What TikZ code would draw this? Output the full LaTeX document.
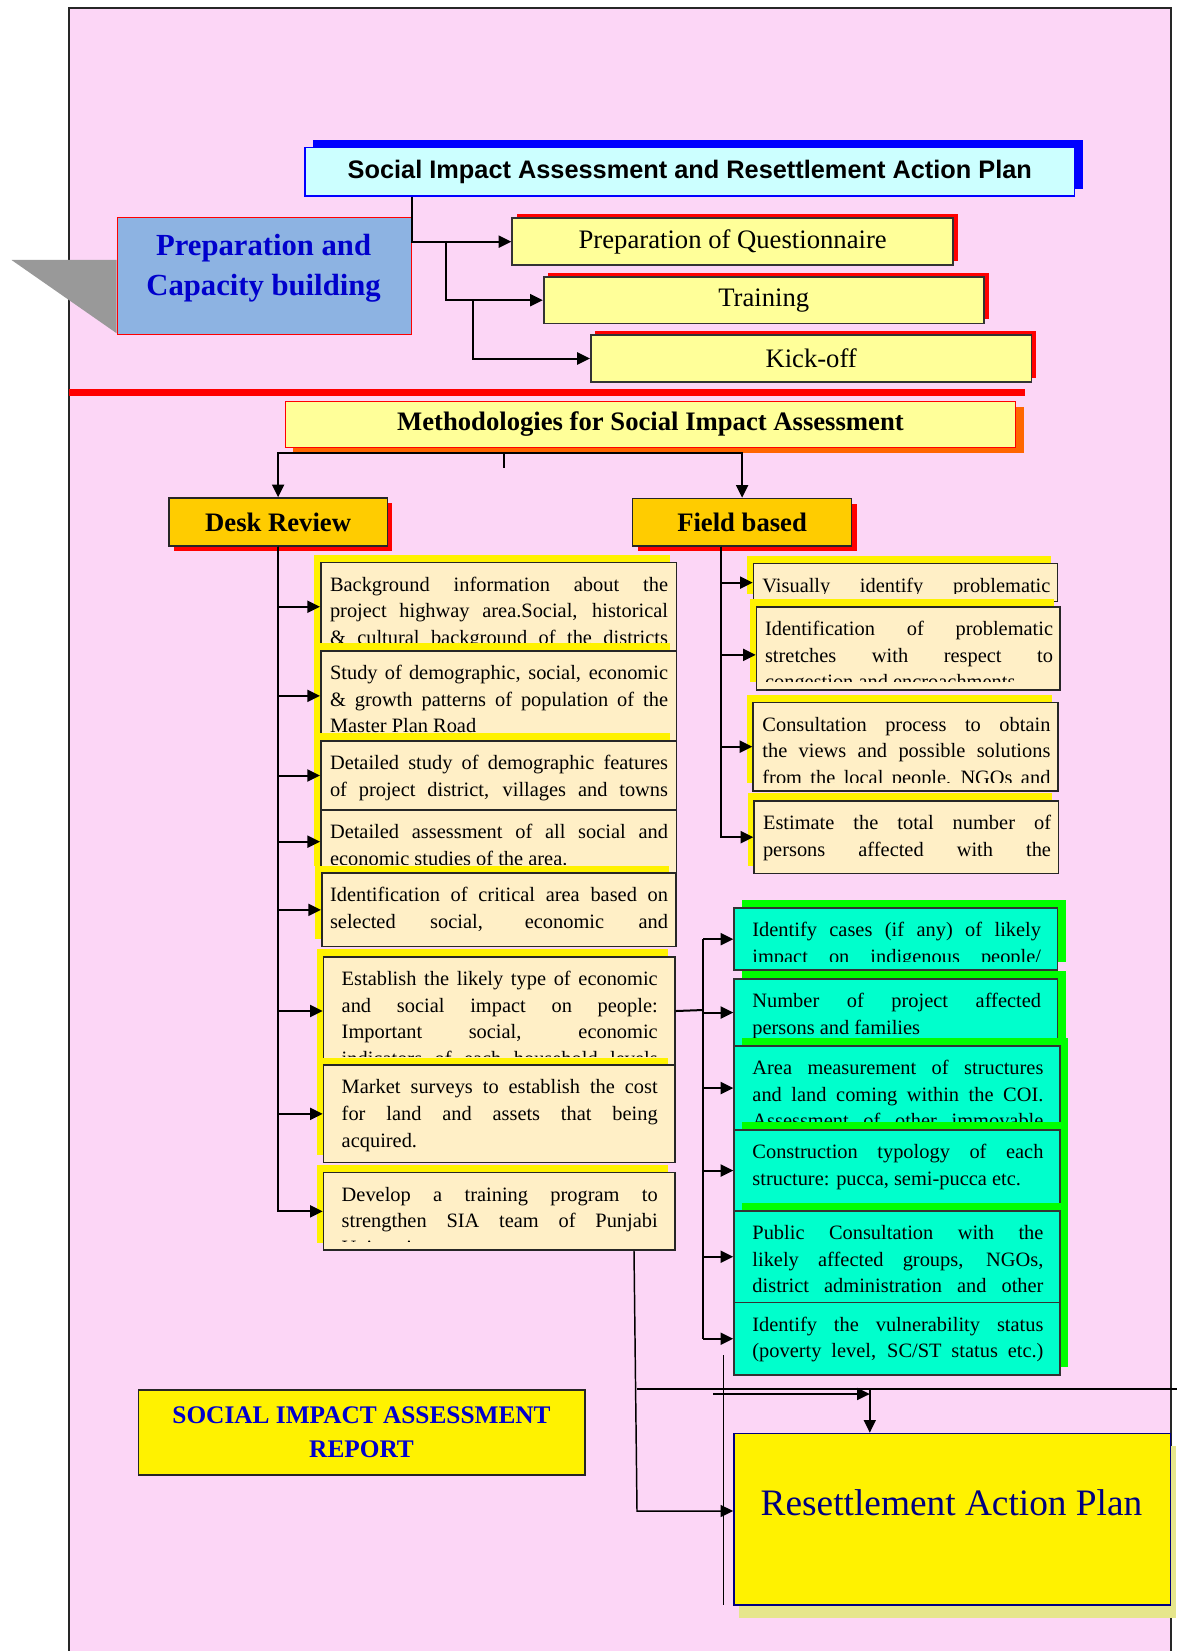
\documentclass[tikz,border=0pt]{standalone}
\usepackage{fontspec}
\setmainfont{Liberation Serif}
\newfontfamily\arialfont{Liberation Sans}
\usetikzlibrary{arrows.meta,shadows}

\definecolor{pinkbg}{HTML}{FCD6F6}
\definecolor{titlefill}{HTML}{CCFFFF}
\definecolor{prepfill}{HTML}{8DB3E2}
\definecolor{lemon}{HTML}{FFFF99}
\definecolor{gold}{HTML}{FFCC00}
\definecolor{peach}{HTML}{FFEFC6}
\definecolor{aqua}{HTML}{00FFCC}
\definecolor{shadegreen}{HTML}{00FF00}
\definecolor{darkblue}{HTML}{0000CC}
\definecolor{rapnavy}{HTML}{000080}
\definecolor{rapshade}{HTML}{E6E68C}
\definecolor{orangeshade}{HTML}{FF6600}
\definecolor{graytri}{HTML}{999999}

\newlength\pxu
\setlength\pxu{0.75pt}
\newcommand\boxfont{\fontsize{15.3}{20}\selectfont}
\newcommand\jrow[1]{\noindent\makebox[\linewidth][s]{#1}\par}
\newcommand\lrow[1]{\noindent#1\par}

\begin{document}
\begin{tikzpicture}[x=0.75pt,y=-0.75pt,
    arr/.style={line width=1.5pt,-{Triangle[length=9.5pt,width=9pt]}},
    thinarr/.style={line width=1.1pt,-{Triangle[length=9.5pt,width=9pt]}},
    conn/.style={line width=1.5pt},
    thinconn/.style={line width=1.1pt},
    panel/.style={anchor=north west,inner sep=0pt,rectangle},
    topbox/.style={panel,fill=lemon,draw=black!80,line width=1.3pt,
      drop shadow={shadow xshift=3.5pt,shadow yshift=3.2pt,fill=red,opacity=1},
      font=\fontsize{20}{24}\selectfont},
    headbox/.style={panel,fill=gold,draw=black!85,line width=1.3pt,
      drop shadow={shadow xshift=3.75pt,shadow yshift=-3.75pt,fill=red,opacity=1},
      font=\bfseries\fontsize{20}{24}\selectfont},
    deskbox/.style={panel,fill=peach,draw=black!85,line width=1.3pt,
      drop shadow={shadow xshift=-5pt,shadow yshift=5.6pt,fill=yellow,opacity=1}},
    greenbox/.style={panel,fill=aqua,draw=black!80,line width=1.3pt,
      drop shadow={shadow xshift=6pt,shadow yshift=6pt,fill=shadegreen,opacity=1}},
    boxtext/.style n args={3}{path picture={
      \clip ([yshift=6.4pt]path picture bounding box.south west)
        rectangle (path picture bounding box.north east);
      \node[anchor=base west,inner sep=0pt,minimum width=0pt,minimum height=0pt,draw=none,fill=none]
        at ([xshift=#1\pxu,yshift=-21.5pt]path picture bounding box.north west)
        {\parbox[t]{#2\pxu}{\boxfont #3}};}}]

  \useasboundingbox (0,0) rectangle (1177,1651);
  \fill[pinkbg] (69,8.3) rectangle (1171,1660);
  \draw[line width=1.2pt,black!85] (69,1660) -- (69,8.3) -- (1171,8.3) -- (1171,1660);
  \fill[graytri] (11.5,260) -- (116.7,260) -- (116.7,333.3) -- cycle;
  \draw[red,line width=4.9pt] (69,392.3) -- (1025,392.3);

  \node[panel,fill=titlefill,draw=blue,line width=1.1pt,
    drop shadow={shadow xshift=6pt,shadow yshift=5.25pt,fill=blue,opacity=1},
    minimum width=769.8\pxu,minimum height=48.6\pxu,
    font=\arialfont\bfseries\fontsize{19}{23}\selectfont] (title) at (304.2,146.7)
    {Social Impact Assessment and Resettlement Action Plan};

  \node[panel,fill=prepfill,draw=red,line width=0.8pt,minimum width=293.9\pxu,minimum height=117\pxu] (prep) at (116.7,217.3) {};
  \node[align=center,text=darkblue,font=\bfseries\fontsize{23}{30}\selectfont] (preplabel) at (263.6,268)
    {Preparation and\\Capacity building};

  \node[topbox,minimum width=440.8\pxu,minimum height=47\pxu] (quest) at (511.4,217.3) {Preparation of Questionnaire};
  \node[topbox,minimum width=440.2\pxu,minimum height=46.7\pxu] (train) at (542.8,276) {Training};
  \node[topbox,minimum width=440.8\pxu,minimum height=46.7\pxu] (kick) at (589.9,334.3) {Kick-off};

  \node[panel,fill=lemon,draw=red,line width=0.8pt,
    drop shadow={shadow xshift=6pt,shadow yshift=-4.5pt,fill=orangeshade,opacity=1},
    minimum width=730.2\pxu,minimum height=46\pxu,font=\bfseries\fontsize{20}{24}\selectfont] (meth) at (284.8,400.7)
    {Methodologies for Social Impact Assessment};

  \node[headbox,minimum width=218.7\pxu,minimum height=47.7\pxu] (desk) at (167.9,497.3) {Desk Review};
  \node[headbox,minimum width=219\pxu,minimum height=47.3\pxu] (field) at (631.7,497.7) {Field based};

  \node[deskbox,minimum width=355.7\pxu,minimum height=88.3\pxu,boxtext={8.3}{338}{%
    \jrow{Background information about the}\jrow{project highway area.Social, historical}%
    \jrow{\& cultural background of the districts}}] (d1) at (320,561.7) {};
  \node[deskbox,minimum width=355.7\pxu,minimum height=90\pxu,boxtext={8.3}{338}{%
    \jrow{Study of demographic, social, economic}\jrow{\& growth patterns of population of the}%
    \lrow{Master Plan Road}}] (d2) at (320,650) {};
  \node[deskbox,minimum width=355.7\pxu,minimum height=63\pxu,boxtext={8.3}{338}{%
    \jrow{Detailed assessment of all social and}\lrow{economic studies of the area.}}] (d4) at (320,809.3) {};
  \node[deskbox,minimum width=355.7\pxu,minimum height=69.3\pxu,boxtext={8.3}{338}{%
    \jrow{Detailed study of demographic features}\jrow{of project district, villages and towns}}] (d3) at (320,740) {};
  \node[deskbox,minimum width=354\pxu,minimum height=73.4\pxu,boxtext={7.3}{338}{%
    \jrow{Identification of critical area based on}\jrow{selected social, economic and}}] (d5) at (321,872.3) {};
  \node[deskbox,minimum width=351.3\pxu,minimum height=108.3\pxu,boxtext={17.3}{316}{%
    \jrow{Establish the likely type of economic}\jrow{and social impact on people:}%
    \jrow{Important social, economic}\jrow{indicators of each household levels}}] (d6) at (322.7,956) {};
  \node[deskbox,minimum width=351.3\pxu,minimum height=97.4\pxu,boxtext={17.3}{316}{%
    \jrow{Market surveys to establish the cost}\jrow{for land and assets that being}%
    \lrow{acquired.}}] (d7) at (322.7,1064.3) {};
  \node[deskbox,minimum width=351.3\pxu,minimum height=77.6\pxu,boxtext={17.3}{316}{%
    \jrow{Develop a training program to}\jrow{strengthen SIA team of Punjabi}%
    \lrow{University}}] (d8) at (322.7,1171.7) {};

  \node[deskbox,minimum width=304\pxu,minimum height=38\pxu,boxtext={8}{288}{%
    \jrow{Visually identify problematic}}] (f1) at (752.7,562.7) {};
  \node[deskbox,minimum width=303.6\pxu,minimum height=83\pxu,boxtext={7.6}{288}{%
    \jrow{Identification of problematic}\jrow{stretches with respect to}%
    \lrow{congestion and encroachments}}] (f2) at (755.7,606) {};
  \node[deskbox,minimum width=305\pxu,minimum height=88.3\pxu,boxtext={8.4}{288}{%
    \jrow{Consultation process to obtain}\jrow{the views and possible solutions}%
    \jrow{from the local people, NGOs and}}] (f3) at (752.3,701.7) {};
  \node[deskbox,minimum width=304.4\pxu,minimum height=72.7\pxu,boxtext={8}{288}{%
    \jrow{Estimate the total number of}\jrow{persons affected with the}}] (f4) at (753.3,800) {};

  \node[greenbox,minimum width=323.4\pxu,minimum height=62\pxu,boxtext={17.4}{288.6}{%
    \jrow{Identify cases (if any) of likely}\jrow{impact on indigenous people/}}] (g1) at (733.3,907.3) {};
  \node[greenbox,minimum width=323.4\pxu,minimum height=66.7\pxu,boxtext={17.4}{288.6}{%
    \jrow{Number of project affected}\lrow{persons and families}}] (g2) at (733.3,978.3) {};
  \node[greenbox,minimum width=326\pxu,minimum height=84.3\pxu,boxtext={17.4}{291}{%
    \jrow{Area measurement of structures}\jrow{and land coming within the COI.}%
    \jrow{Assessment of other immovable}}] (g3) at (733.3,1045) {};
  \node[greenbox,minimum width=326\pxu,minimum height=80.7\pxu,boxtext={17.4}{291}{%
    \jrow{Construction typology of each}\lrow{structure: pucca, semi-pucca etc.}}] (g4) at (733.3,1129.3) {};
  \node[greenbox,minimum width=326\pxu,minimum height=72.3\pxu,boxtext={17.4}{291}{%
    \jrow{Identify the vulnerability status}\jrow{(poverty level, SC/ST status etc.)}}] (g6) at (733.3,1301.7) {};
  \node[greenbox,minimum width=326\pxu,minimum height=91.7\pxu,boxtext={17.4}{291}{%
    \jrow{Public Consultation with the}\jrow{likely affected groups, NGOs,}%
    \jrow{district administration and other}}] (g5) at (733.3,1210) {};

  \node[panel,fill=yellow,draw=black!85,line width=1.2pt,minimum width=446.5\pxu,minimum height=85\pxu,
    align=center,text=darkblue,font=\bfseries\fontsize{19}{25}\selectfont] (report) at (137.5,1389)
    {SOCIAL IMPACT ASSESSMENT\\REPORT};

  \node[panel,fill=yellow,draw=rapnavy,line width=1.2pt,
    drop shadow={shadow xshift=3.75pt,shadow yshift=-9.4pt,fill=rapshade,opacity=1},
    minimum width=436.5\pxu,minimum height=171.6\pxu] (rap) at (733.2,1432.7) {};
  \node[text=rapnavy,font=\fontsize{28}{34}\selectfont] (raplabel) at (951.5,1502.4) {Resettlement Action Plan};

  \coordinate (tbr) at (445.8,240.8);
  \coordinate (kbr) at (473.4,299.3);
  \draw[arr] (prep.east |- title.south) |- (quest.west);
  \draw[arr] (tbr) |- (train.west);
  \draw[arr] (kbr) |- (kick.west);

  \coordinate (mbus) at (503.6,452.7);
  \draw[conn] (mbus) -- ++(0,15.3);
  \draw[arr] (mbus) -| (desk.north);
  \draw[arr] (mbus) -| (field.north);

  \foreach \k in {d1,d2,d3,d4,d5,d6,d7,d8}
    \draw[arr] (desk.south) |- (\k.west);

  \coordinate (fbus) at ([xshift=-15.9pt]field.south);
  \foreach \k in {f1,f3,f4}
    \draw[arr] (fbus) |- (\k.west);
  \draw[arr] (fbus) |- ([yshift=-4.9pt]f2.west);

  \coordinate (gbus) at (703.3,1010);
  \draw[conn] (d6.east) -- (gbus);
  \draw[conn] (gbus |- g1.west) -- (gbus |- g6.west);
  \foreach \k in {g1,g2,g3,g4,g5,g6}
    \draw[arr] (gbus |- \k.west) -- (\k.west);

  \coordinate (dtail) at ([xshift=-31.3pt]d8.south east);
  \coordinate (rapbend) at (637,1511);
  \draw[thinarr] (dtail) -- (rapbend) -- (rapbend -| rap.west);
  \coordinate (hl1) at (637,1389);
  \coordinate (hl2) at (1177,1389);
  \draw[thinconn] (hl1) -- (hl2);
  \coordinate (rapin) at (869.8,1389);
  \coordinate (ha) at (713.4,1394);
  \draw[thinarr] (ha) -- (ha -| rapin);
  \draw[thinarr] (rapin) -- (rapin |- rap.north);
  \coordinate (vl1) at (723.7,1355);
  \coordinate (vl2) at (723.7,1605);
  \draw[thinconn] (vl1) -- (vl2);
\end{tikzpicture}
\end{document}
